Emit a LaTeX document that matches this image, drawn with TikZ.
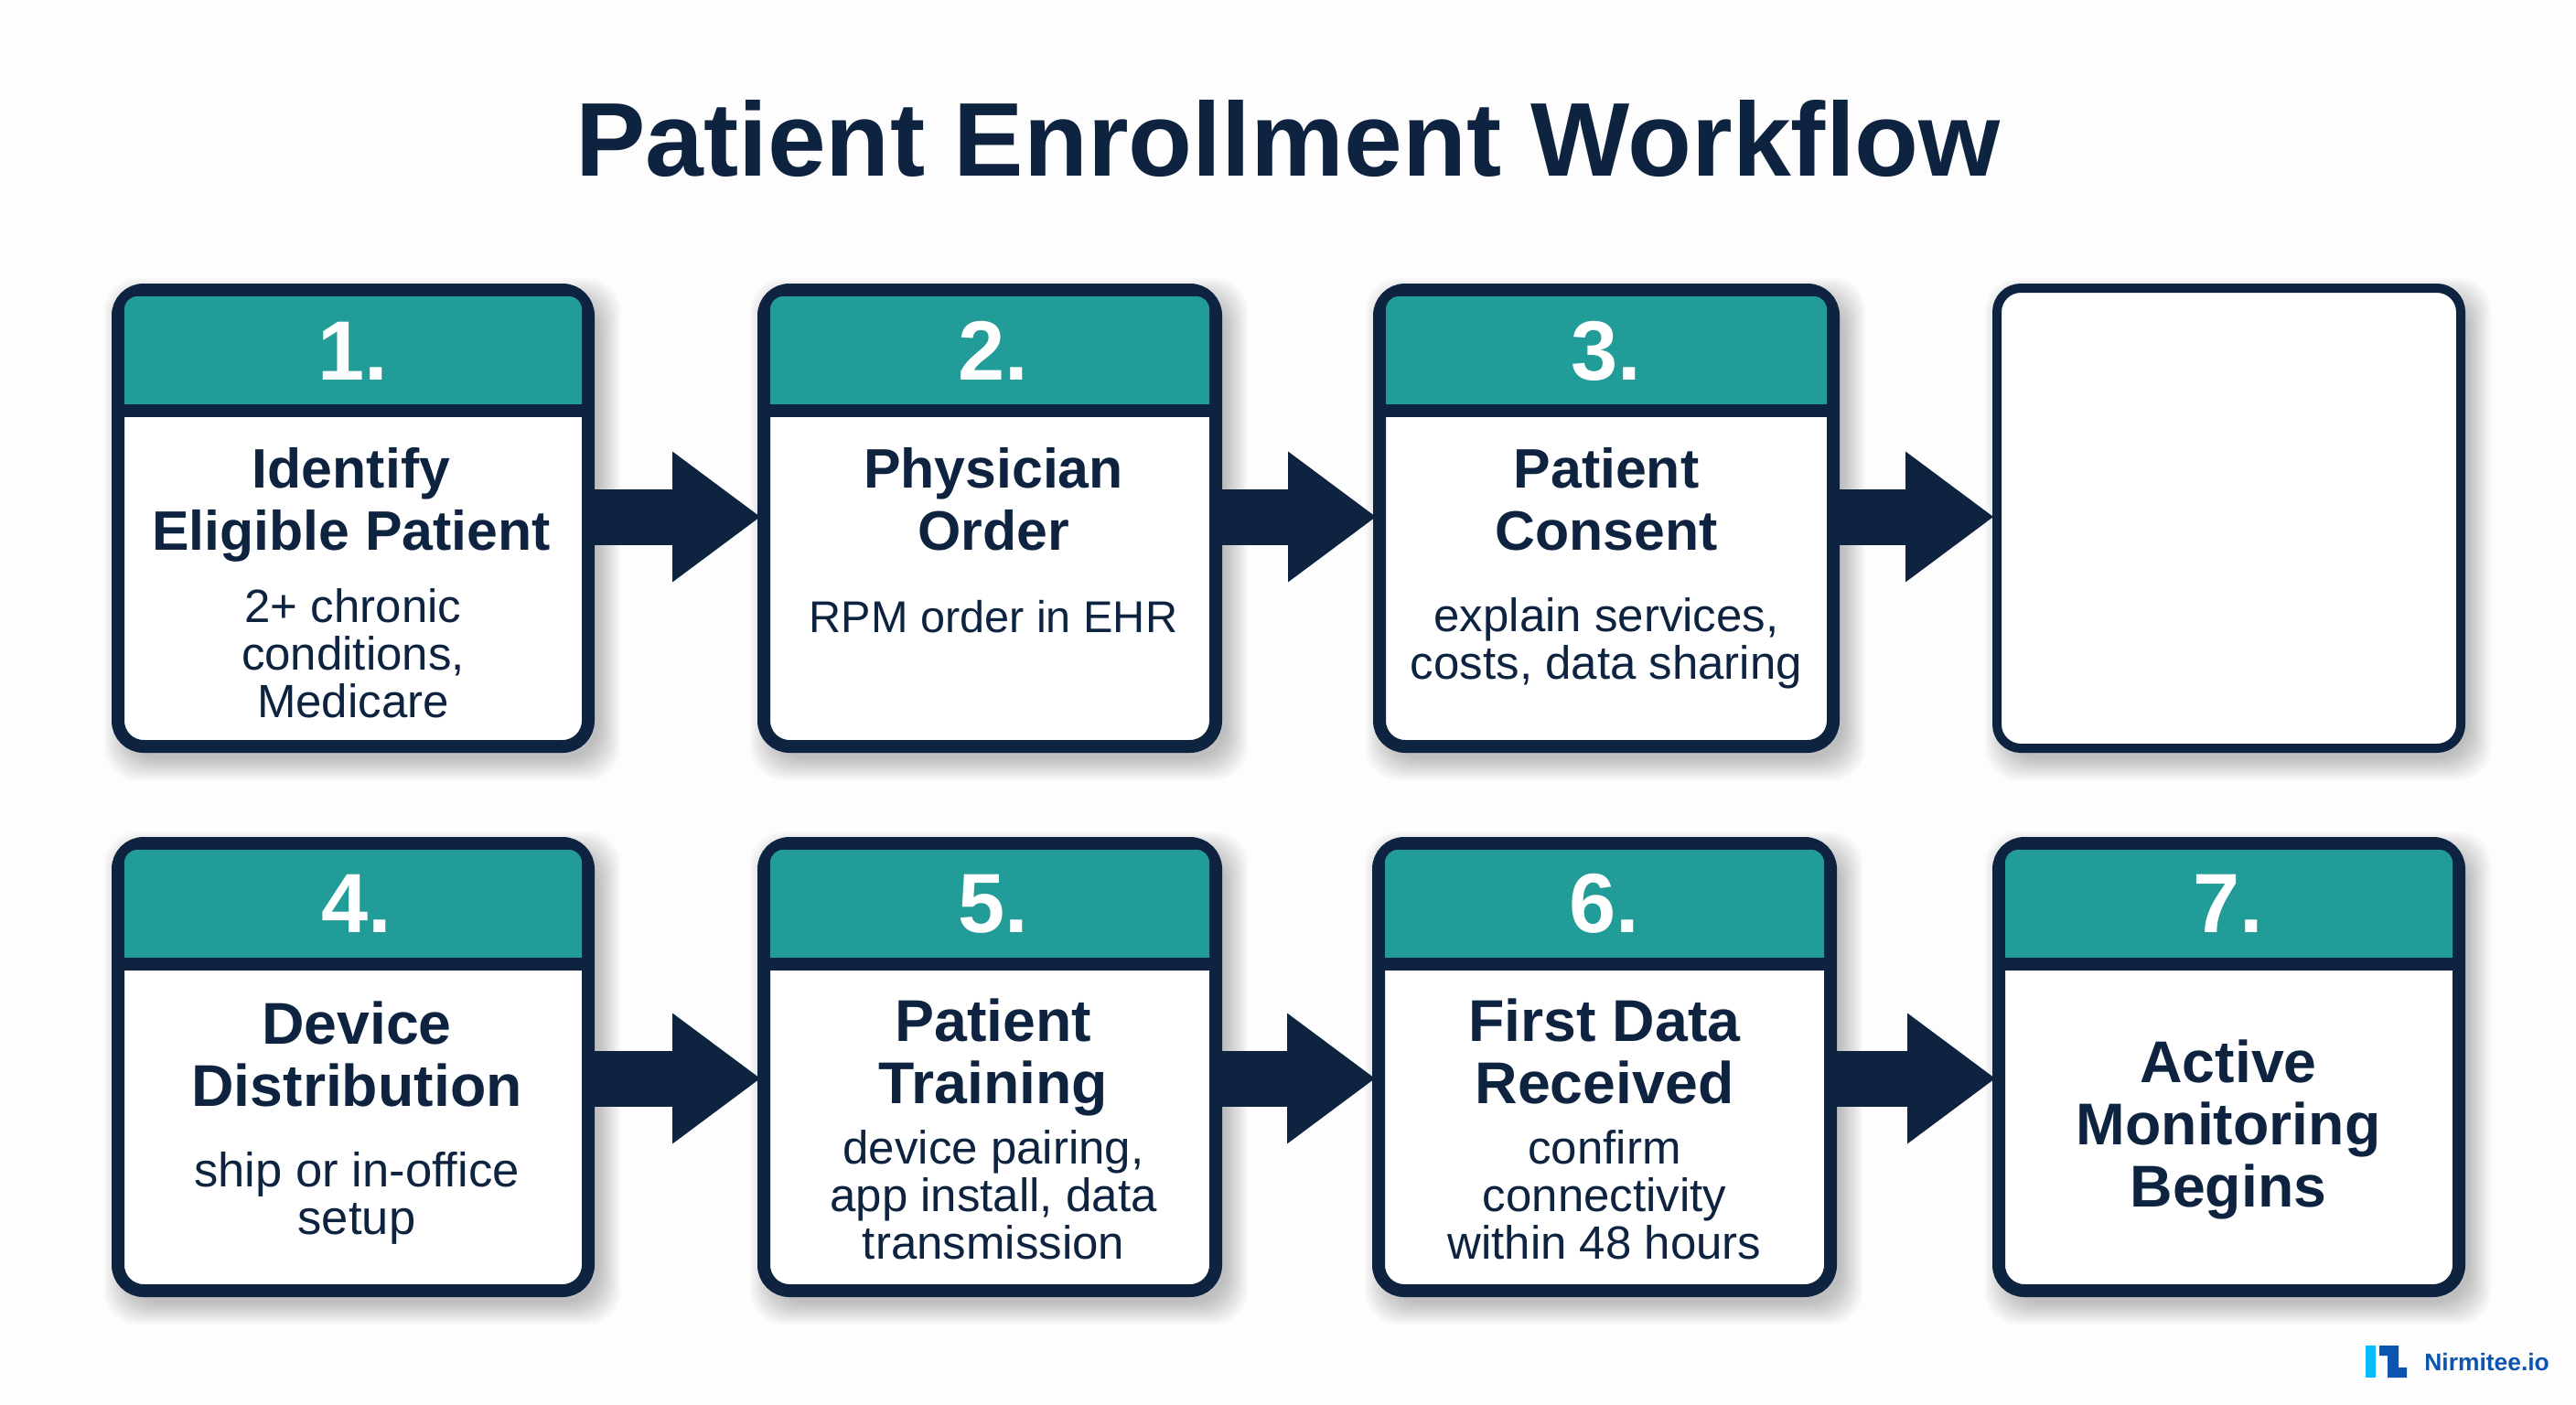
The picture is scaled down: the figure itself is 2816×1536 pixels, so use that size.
\documentclass[tikz,border=0pt]{standalone}
\usepackage{fontspec}
\setmainfont{Liberation Sans}
\usetikzlibrary{arrows.meta,calc}
\definecolor{navy}{HTML}{0D2340}
\definecolor{tealhd}{HTML}{219C98}
\definecolor{paper}{HTML}{FDFDFD}
\definecolor{logoa}{HTML}{0BBBFF}
\definecolor{logob}{HTML}{0B55B0}
\tikzset{
  cardbox/.style={draw=navy,fill=white,line width=7pt,rounded corners=14pt,outer sep=0pt,inner sep=0pt},
  emptybox/.style={draw=navy,fill=white,line width=5pt,rounded corners=13pt,inner sep=0pt,outer sep=0pt},
  numtext/.style={font=\fontsize{46}{46}\selectfont\bfseries,text=white,inner sep=0pt,anchor=base},
  titletext/.style={font=\fontsize{30.4}{34}\selectfont\bfseries,text=navy,align=center,inner sep=0pt,anchor=base},
  titlelarge/.style={titletext,font=\fontsize{32.2}{34}\selectfont\bfseries},
  subtext/.style={font=\fontsize{25.5}{26}\selectfont,text=navy,align=center,inner sep=0pt,anchor=base},
  flow/.style={draw=navy,line width=30.5pt,shorten >=2pt,-{Triangle[length=48pt,width=71.5pt,line width=0pt,fill=navy]}},
}
% soft shadow: #1 x0 #2 y0 #3 x1 #4 y1
\newcommand{\softshadow}[4]{%
  \foreach \g in {18,16,...,-6}{%
    \fill[black,opacity=0.02,rounded corners=18pt]
      ($(#1,#2)+(10-\g,12-\g)$) rectangle ($(#3,#4)+(10+\g,12+\g)$);
  }%
}
% #1 name #2 x0 #3 y0 #4 x1 #5 y1 #6 header-teal-bottom #7 numeral x #8 numeral baseline #9 numeral
\newcommand{\stepcard}[9]{%
  \softshadow{#2}{#3}{#4}{#5}
  \node[cardbox,minimum width={(#4-#2-14)*0.5pt},minimum height={(#5-#3-14)*0.5pt}] (#1) at ({(#2+#4)/2},{(#3+#5)/2}) {};
  \fill[tealhd,rounded corners=7pt] ({#2+14},#6) [sharp corners] -- ({#2+14},{#3+30}) [rounded corners=7pt] -- ({#2+14},{#3+14}) -- ({#4-14},{#3+14}) [sharp corners] -- ({#4-14},#6) -- cycle;
  \draw[navy,line width=7pt] (#2+7,#6+7) -- (#4-7,#6+7);
  \node[numtext] (#1n) at (#7,#8) {#9};
}
\begin{document}
\begin{tikzpicture}[x=0.5pt,y=-0.5pt]
\useasboundingbox (0,0) rectangle (2816,1536);
\fill[paper] (0,0) rectangle (2816,1536);

\node[font=\fontsize{57.3}{60}\selectfont\bfseries,text=navy,inner sep=0pt,anchor=base] (title) at (1408,192) {Patient Enrollment Workflow};

% row 1
\stepcard{a}{122}{310}{650}{823}{442}{386}{415}{1.}
\stepcard{b}{828}{310}{1336}{823}{442}{1086}{415}{2.}
\stepcard{c}{1501}{310}{2011}{823}{442}{1756}{415}{3.}
\softshadow{2178}{310}{2695}{823}
\node[emptybox,minimum width={(2695-2178-10)*0.5pt},minimum height={(823-310-10)*0.5pt}] (d) at ({(2178+2695)/2},{(310+823)/2}) {};

% row 2
\stepcard{e}{122}{915}{650}{1418}{1047}{390}{1019}{4.}
\stepcard{f}{828}{915}{1336}{1418}{1047}{1086}{1019}{5.}
\stepcard{g}{1500}{915}{2008}{1418}{1047}{1754}{1019}{6.}
\stepcard{h}{2178}{915}{2695}{1418}{1047}{2436}{1019}{7.}

% texts (anchor=base: y is the baseline of the last line)
\node[titletext] (at) at (384,601) {Identify\\Eligible Patient};
\node[subtext] (as) at (386,784) {2+ chronic\\conditions,\\Medicare};
\node[titletext] (bt) at (1086,601) {Physician\\Order};
\node[subtext,font=\fontsize{24.3}{26}\selectfont] (bs) at (1086,691) {RPM order in EHR};
\node[titletext] (ct) at (1756,601) {Patient\\Consent};
\node[subtext] (cs) at (1756,742) {explain services,\\costs, data sharing};
\node[titlelarge] (et) at (390,1209) {Device\\Distribution};
\node[subtext,font=\fontsize{26.3}{26}\selectfont] (es) at (390,1349) {ship or in-office\\setup};
\node[titlelarge] (ft) at (1086,1206) {Patient\\Training};
\node[subtext] (fs) at (1086,1376) {device pairing,\\app install, data\\transmission};
\node[titlelarge] (gt) at (1754,1206) {First Data\\Received};
\node[subtext] (gs) at (1754,1376) {confirm\\connectivity\\within 48 hours};
\node[titlelarge] (ht) at (2436,1319) {Active\\Monitoring\\Begins};

% connectors
\coordinate (r1) at (0,565);
\coordinate (r2) at (0,1179);
\draw[flow] (a.east|-r1) -- (b.west|-r1);
\draw[flow] (b.east|-r1) -- (c.west|-r1);
\draw[flow] (c.east|-r1) -- (d.west|-r1);
\draw[flow] (e.east|-r2) -- (f.west|-r2);
\draw[flow] (f.east|-r2) -- (g.west|-r2);
\draw[flow] (g.east|-r2) -- (h.west|-r2);

% logo
\fill[logoa] (2586,1471) rectangle (2597,1506);
\fill[logob] (2601,1471) -- (2622,1471) -- (2622,1495) -- (2631,1495) -- (2631,1506) -- (2610,1506) -- (2610,1482) -- (2601,1482) -- cycle;
\node[font=\fontsize{13.2}{14}\selectfont\bfseries,text=logob,inner sep=0pt,anchor=base west] (logo) at (2650,1498) {Nirmitee.io};
\end{tikzpicture}
\end{document}
